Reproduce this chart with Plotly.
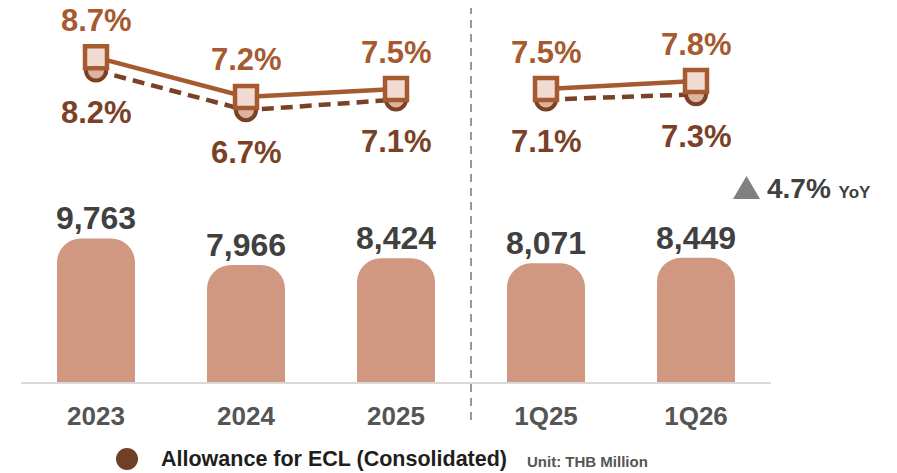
import plotly.graph_objects as go

categories = ["2023", "2024", "2025", "1Q25", "1Q26"]
allowance = [9763, 7966, 8424, 8071, 8449]
annual_x = ["2023", "2024", "2025"]
quarter_x = ["1Q25", "1Q26"]
ratio_solid_annual = [8.7, 7.2, 7.5]
ratio_solid_quarter = [7.5, 7.8]
ratio_dashed_annual = [8.2, 6.7, 7.1]
ratio_dashed_quarter = [7.1, 7.3]
yoy_text = "4.7%"

FONT = "Liberation Sans, Arial, sans-serif"
BAR_C = "#D09880"
SOLID_C = "#A65A30"
DASH_C = "#7A4126"
LABEL_C = "#404040"

# page shows the figure offset by the 8px body margin.
OFF = 8
L, T, PW, PH = 13, 0, 750, 374
W, H = 897, 473


def px(sx):
    return (sx - OFF - L) / PW


def py(sy):
    return (T + PH - (sy - OFF)) / PH


def idx(c):
    # position of a category on the category axis
    return categories.index(c)


fig = go.Figure()

fig.add_trace(go.Bar(
    x=categories, y=allowance, marker=dict(color=BAR_C, line=dict(width=0)),
    width=0.52, yaxis="y", hoverinfo="skip", showlegend=False,
))

for xs, ys in [(annual_x, ratio_dashed_annual), (quarter_x, ratio_dashed_quarter)]:
    fig.add_trace(go.Scatter(
        x=xs, y=ys, yaxis="y2", mode="lines+markers",
        line=dict(color=DASH_C, width=4.5, dash="12px,7px"),
        marker=dict(symbol="circle", size=20, color="#DDB39E", line=dict(color=DASH_C, width=4)),
        showlegend=False, hoverinfo="skip",
    ))
for xs, ys in [(annual_x, ratio_solid_annual), (quarter_x, ratio_solid_quarter)]:
    fig.add_trace(go.Scatter(
        x=xs, y=ys, yaxis="y2", mode="lines+markers",
        line=dict(color=SOLID_C, width=4.5),
        marker=dict(symbol="square", size=22, color="#F0DAD2", line=dict(color=SOLID_C, width=4.5)),
        showlegend=False, hoverinfo="skip",
    ))

annotations = []
for c, v in zip(categories, allowance):
    annotations.append(dict(x=idx(c), y=v, xref="x", yref="y", text=f"{v:,}", showarrow=False,
                            yshift=20, font=dict(family=FONT, size=32, color=LABEL_C, weight="bold")))
for c, v in zip(annual_x + quarter_x, ratio_solid_annual + ratio_solid_quarter):
    annotations.append(dict(x=idx(c), y=v, xref="x", yref="y2", text=f"{v:.1f}%", showarrow=False,
                            yshift=37, font=dict(family=FONT, size=31, color=SOLID_C, weight="bold")))
for c, v in zip(annual_x + quarter_x, ratio_dashed_annual + ratio_dashed_quarter):
    annotations.append(dict(x=idx(c), y=v, xref="x", yref="y2", text=f"{v:.1f}%", showarrow=False,
                            yshift=-42, font=dict(family=FONT, size=31, color=DASH_C, weight="bold")))

# YoY note
annotations.append(dict(x=px(765), y=py(188), xref="paper", yref="paper",
                        xanchor="left", yanchor="middle",
                        text=f"<b>{yoy_text}</b> <b><span style='font-size:17px'>YoY</span></b>",
                        showarrow=False, font=dict(family=FONT, size=28, color=LABEL_C)))

# legend
annotations.append(dict(x=px(159), y=py(459), xref="paper", yref="paper",
                        xanchor="left", yanchor="middle",
                        text="<b>Allowance for ECL (Consolidated)</b>", showarrow=False,
                        font=dict(family=FONT, size=21.5, color="#1E1E1E")))
annotations.append(dict(x=px(525), y=py(461), xref="paper", yref="paper",
                        xanchor="left", yanchor="middle",
                        text="<b>Unit: THB Million</b>", showarrow=False,
                        font=dict(family=FONT, size=15, color="#555555")))

tri = (f"M {px(733)},{py(199)} L {px(760)},{py(199)} L {px(746.5)},{py(176)} Z")
shapes = [
    dict(type="line", xref="x", yref="paper", x0=2.5, x1=2.5, y0=py(420), y1=py(5),
         line=dict(color="#999999", width=2, dash="8px,6px")),
    dict(type="circle", xref="paper", yref="paper",
         x0=px(116), x1=px(138), y0=py(470), y1=py(448),
         fillcolor="#6F3F27", line=dict(width=0)),
    dict(type="path", xref="paper", yref="paper", path=tri,
         fillcolor="#808080", line=dict(width=0)),
    dict(type="line", xref="paper", yref="paper", x0=px(892), x1=px(892), y0=py(473), y1=py(0),
         line=dict(color="#EEEEEE", width=1)),
]

fig.update_layout(
    width=W, height=H,
    margin=dict(l=L, r=W - L - PW, t=T, b=H - T - PH),
    paper_bgcolor="white", plot_bgcolor="white",
    barcornerradius=24,
    xaxis=dict(type="category", categoryorder="array", categoryarray=categories,
               range=[-0.5, len(categories) - 0.5], autorange=False,
               showgrid=False, showline=True, linecolor="#D9D9D9", linewidth=2,
               ticks="", ticklabelstandoff=10,
               tickfont=dict(family=FONT, size=26, color="#555555", weight="bold")),
    yaxis=dict(range=[0, 25442], visible=False, showgrid=False, zeroline=False),
    yaxis2=dict(range=[-3.58, 10.565], overlaying="y", visible=False, showgrid=False, zeroline=False),
    annotations=annotations, shapes=shapes,
    showlegend=False,
)

fig.write_html("out.html")
